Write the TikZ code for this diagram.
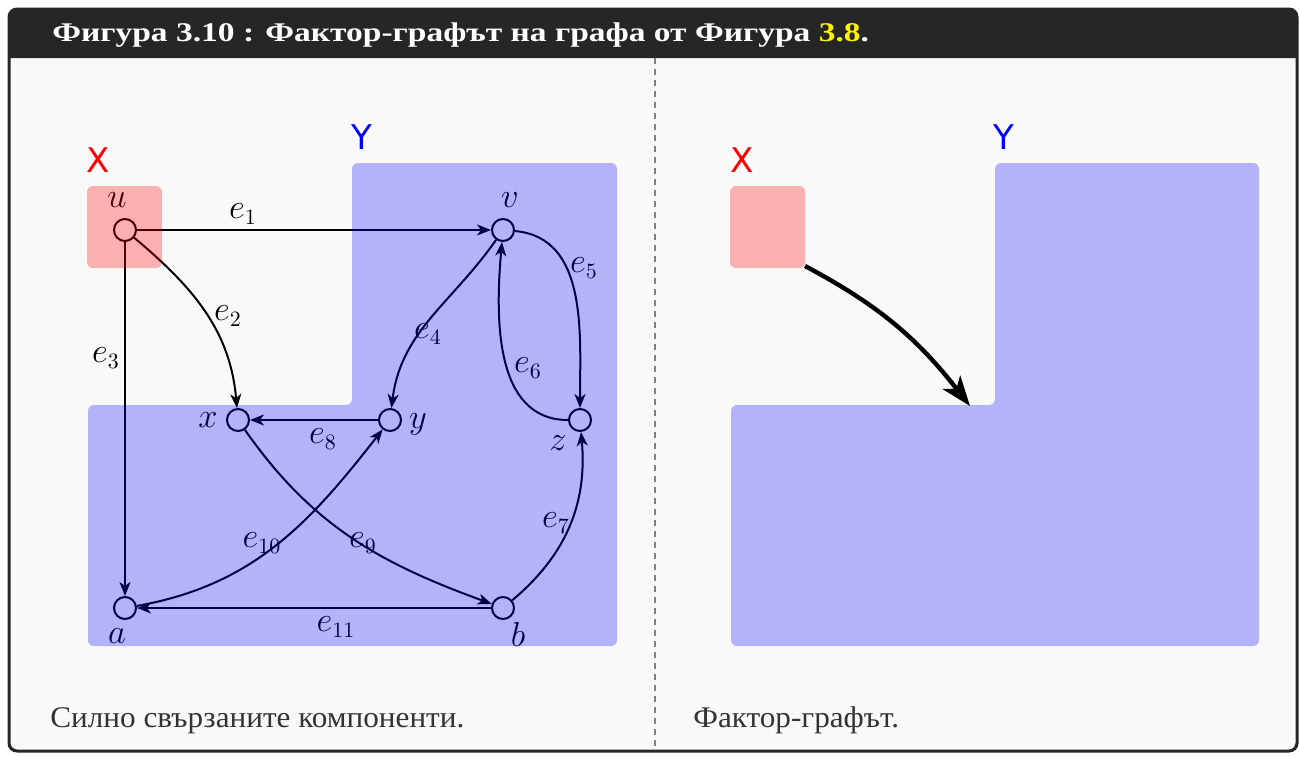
\documentclass[tikz,border=0pt]{standalone}
\usepackage[no-math]{fontspec}
\setmainfont{Liberation Serif}
\newfontfamily\titlefont[FakeStretch=1.24]{Liberation Serif}
\newfontfamily\capfont[FakeStretch=1.04]{Liberation Serif}
\newfontfamily\xyfont{DejaVu Sans}
\usetikzlibrary{arrows.meta}
\definecolor{framecol}{HTML}{262626}
\definecolor{bodybg}{HTML}{F9F9F9}
\definecolor{capcol}{HTML}{333333}
\tikzset{
  vert/.style={circle, draw, line width=1pt, minimum size=11pt, inner sep=0pt},
  arc/.style={line width=1pt, -{Stealth[length=7pt,width=5.5pt,inset=2pt]}},
  lab/.style={inner sep=0pt, font=\fontsize{16}{16}\selectfont},
  setlab/.style={inner sep=0pt, font=\xyfont\fontsize{17}{17}\selectfont},
  redreg/.style={fill=red, opacity=0.29, rounded corners=3pt},
  bluereg/.style={fill=blue, opacity=0.28, rounded corners=3pt},
  bigarc/.style={line width=2.2pt, -{Stealth[length=15pt,width=11pt,inset=4pt]}},
  caption/.style={anchor=base west, inner sep=0pt, text=capcol, font=\capfont\fontsize{15}{15}\selectfont},
}
\begin{document}
\begin{tikzpicture}[x=0.5pt,y=0.5pt]
\useasboundingbox (0,0) rectangle (1300,-756);
\fill[white] (0,0) rectangle (1300,-756);
% frame
\draw[framecol, line width=1.5pt, fill=bodybg, rounded corners=4pt] (9,-9) rectangle (1297,-751);
\fill[framecol] (9,-58) [rounded corners=4pt] -- (9,-9) -- (1297,-9) [sharp corners] -- (1297,-58) -- cycle;
\node[anchor=base west, inner sep=0pt, text=white, font=\titlefont\bfseries\fontsize{13.5}{13.5}\selectfont] (title) at (52,-41)
  {Фигура 3.10 : Фактор-графът на графа от Фигура \textcolor{yellow}{3.8}.};
\draw[gray, line width=0.6pt, dash pattern=on 3pt off 2.5pt] (655,-58) -- (655,-751);

% ---------- left panel ----------
\node[vert] (u) at (125,-230) {};
\node[vert] (v) at (503,-230) {};
\node[vert] (x) at (238,-420) {};
\node[vert] (y) at (390,-420) {};
\node[vert] (z) at (580,-420) {};
\node[vert] (a) at (125,-608) {};
\node[vert] (b) at (503,-608) {};

\node[lab] (lu) at (117,-200) {$u$};
\node[lab] (lv) at (510,-200) {$v$};
\node[lab] (lx) at (208,-420) {$x$};
\node[lab] (ly) at (418,-424) {$y$};
\node[lab] (lz) at (558,-443) {$z$};
\node[lab] (la) at (117,-636) {$a$};
\node[lab] (lb) at (518,-634) {$b$};

\draw[arc] (u) -- (v);
\draw[arc] (u) to[out=-40,in=95] (x);
\draw[arc] (u) -- (a);
\draw[arc] (v) to[out=-125,in=83] (y);
\draw[arc] (v) to[out=-5,in=90] (z);
\draw[arc] (z) to[out=180,in=-95] (v);
\draw[arc] (b) to[out=40,in=-85] (z);
\draw[arc] (y) -- (x);
\draw[arc] (x) to[out=-55,in=160] (b);
\draw[arc] (a) to[out=10,in=-128] (y);
\draw[arc] (b) -- (a);

\node[lab] (e1) at (243,-214) {$e_1$};
\node[lab] (e2) at (228,-316) {$e_2$};
\node[lab] (e3) at (106,-358) {$e_3$};
\node[lab] (e4) at (428,-334) {$e_4$};
\node[lab] (e5) at (584,-268) {$e_5$};
\node[lab] (e6) at (528,-368) {$e_6$};
\node[lab] (e7) at (556,-523) {$e_7$};
\node[lab] (e8) at (323,-439) {$e_8$};
\node[lab] (e9) at (363,-543) {$e_9$};
\node[lab] (e10) at (262,-543) {$e_{10}$};
\node[lab] (e11) at (336,-627) {$e_{11}$};

\fill[redreg] (87,-186) rectangle (162,-268);
\fill[bluereg] (352,-163) -- (617,-163) -- (617,-646) -- (88,-646) -- (88,-405) -- (352,-405) -- cycle;
\node[setlab, text=red] (X1) at (98,-160) {X};
\node[setlab, text=blue] (Y1) at (362,-137) {Y};

\node[caption] (cap1) at (50,-727) {Силно свързаните компоненти.};

% ---------- right panel ----------
\fill[redreg] (730,-186) rectangle (805,-268);
\coordinate (Xr) at (805,-266);
\fill[bluereg] (995,-163) -- (1259,-163) -- (1259,-646) -- (731,-646) -- (731,-405) -- (995,-405) -- cycle;
\coordinate (Yr) at (970,-406);
\node[setlab, text=red] (X2) at (742,-160) {X};
\node[setlab, text=blue] (Y2) at (1004,-137) {Y};
\draw[bigarc] (Xr) to[out=-28,in=128] (Yr);

\node[caption] (cap2) at (693,-727) {Фактор-графът.};
\end{tikzpicture}
\end{document}
